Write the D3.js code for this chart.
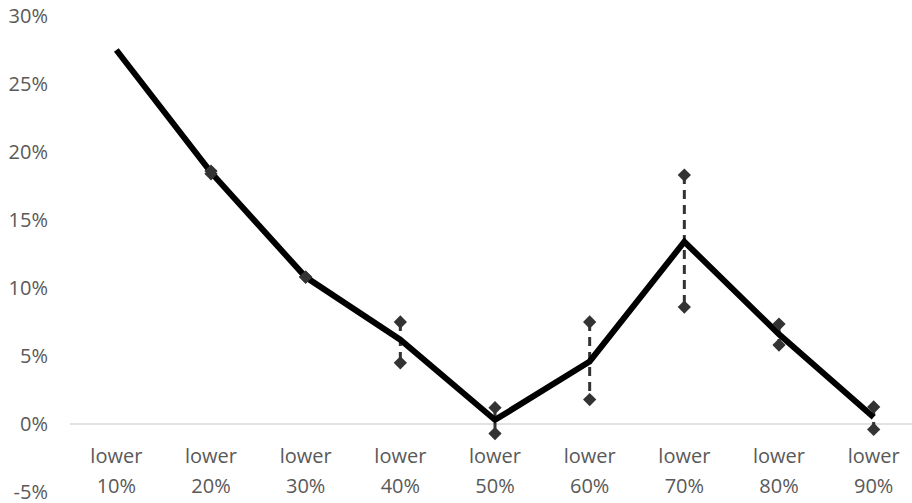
<!DOCTYPE html>
<html>
<head>
<meta charset="utf-8">
<script src="https://cdn.jsdelivr.net/npm/d3@7"></script>
<style>
  html, body { margin: 0; padding: 0; background: #fff; }
  svg { display: block; }
</style>
</head>
<body>
<svg id="chart" width="912" height="503"></svg>
<script>
// Categories and series values (percent)
const categories = ["lower 10%", "lower 20%", "lower 30%", "lower 40%", "lower 50%",
                    "lower 60%", "lower 70%", "lower 80%", "lower 90%"];
const estimate = [27.5, 18.5, 10.8, 6.2, 0.3, 4.6, 13.4, 6.6, 0.5];
const upper    = [27.5, 18.6, 10.8, 7.5, 1.2, 7.5, 18.3, 7.35, 1.25];
const lower    = [27.5, 18.4, 10.8, 4.5, -0.7, 1.8, 8.6, 5.8, -0.4];
const yTicks   = [-5, 0, 5, 10, 15, 20, 25, 30];

const svg = d3.select("#chart");
const FONT = "'Open Sans', sans-serif";

const x = d3.scaleBand().domain(categories).range([69, 921]);
const y = d3.scaleLinear().domain([-5, 30]).range([492, 16]);
const cx = d => x(d) + x.bandwidth() / 2;

// Y axis labels
svg.append("g")
  .attr("transform", "translate(48,0)")
  .call(d3.axisLeft(y).tickValues(yTicks).tickSize(0).tickPadding(0).tickFormat(d => d + "%"))
  .call(g => g.select(".domain").remove())
  .call(g => g.selectAll("text")
    .attr("font-family", FONT)
    .attr("font-size", 20)
    .attr("dy", "0.3em")
    .attr("fill", "#595959"));

// Zero baseline
svg.append("line")
  .attr("x1", 70).attr("x2", 912)
  .attr("y1", y(0)).attr("y2", y(0))
  .attr("stroke", "#d9d9d9").attr("stroke-width", 1.5);

// Category labels (two lines each)
const catG = svg.append("g")
  .attr("font-family", FONT)
  .attr("font-size", 20)
  .attr("fill", "#595959")
  .attr("text-anchor", "middle");
categories.forEach(c => {
  const parts = c.split(" ");
  const t = catG.append("text").attr("x", cx(c)).attr("y", 463);
  t.append("tspan").attr("x", cx(c)).attr("dy", 0).text(parts[0]);
  t.append("tspan").attr("x", cx(c)).attr("dy", 30).text(parts[1]);
});

// Range bars (dashed) between lower and upper bounds
const rows = categories.map((c, i) => ({ c, v: estimate[i], hi: upper[i], lo: lower[i] }));
svg.append("g").selectAll("line")
  .data(rows.filter(d => d.hi - d.lo > 0.5))
  .join("line")
  .attr("x1", d => cx(d.c)).attr("x2", d => cx(d.c))
  .attr("y1", d => y(d.hi)).attr("y2", d => y(d.lo))
  .attr("stroke", "#333").attr("stroke-width", 3)
  .attr("stroke-dasharray", "9,6");

// Main line
svg.append("path")
  .datum(rows)
  .attr("fill", "none")
  .attr("stroke", "#000")
  .attr("stroke-width", 6)
  .attr("stroke-linejoin", "miter")
  .attr("d", d3.line().x(d => cx(d.c)).y(d => y(d.v)));

// Bound markers (diamonds)
const marks = [];
rows.forEach((d, i) => {
  if (i === 0) return;
  marks.push({ c: d.c, v: d.hi });
  marks.push({ c: d.c, v: d.lo });
});
svg.append("g").selectAll("path")
  .data(marks)
  .join("path")
  .attr("d", d3.symbol().type(d3.symbolSquare).size(88))
  .attr("transform", d => `translate(${cx(d.c)},${y(d.v)}) rotate(45)`)
  .attr("fill", "#333");
</script>
</body>
</html>
